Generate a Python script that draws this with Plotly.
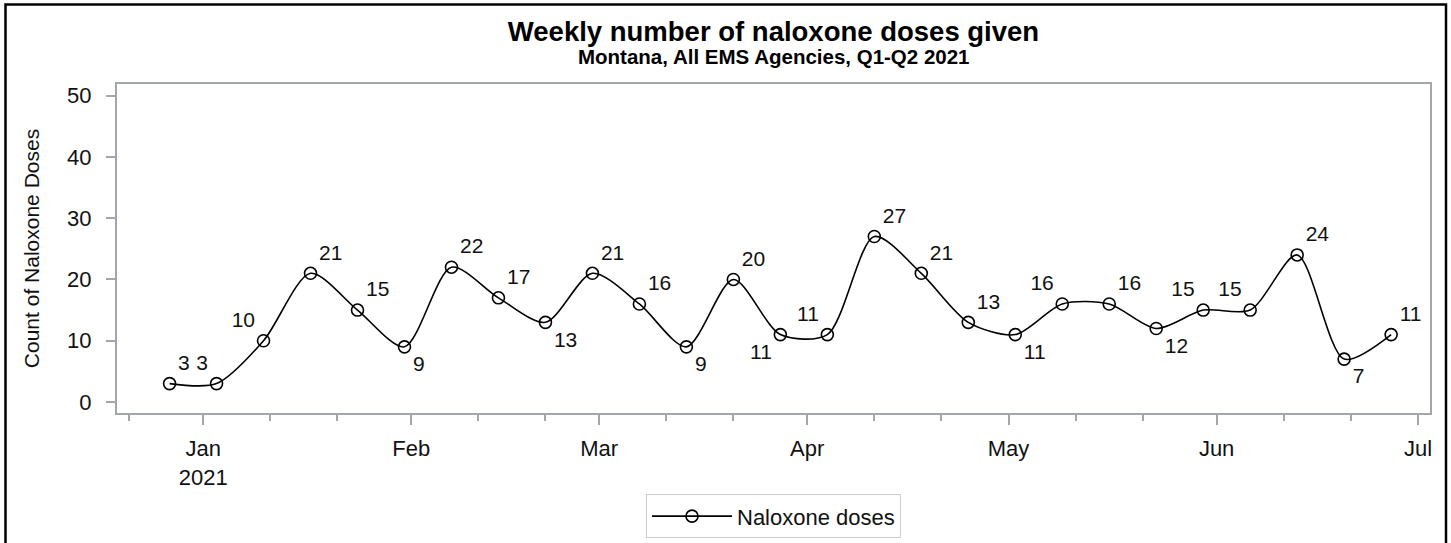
import plotly.graph_objects as go
import pandas as pd

week_start = pd.date_range("2020-12-27", periods=27, freq="7D")
doses = [3, 3, 10, 21, 15, 9, 22, 17, 13, 21, 16, 9, 20, 11, 11, 27, 21, 13, 11, 16, 16, 12, 15, 15, 24, 7, 11]
label_pos = ["top right", "top left", "top left", "top right", "top right", "bottom right",
             "top right", "top right", "bottom right", "top right", "top right", "bottom right",
             "top right", "bottom left", "top left", "top right", "top right", "top right",
             "bottom right", "top left", "top right", "bottom right", "top left", "top left",
             "top right", "bottom right", "top right"]

month_ticks = ["2021-01-01", "2021-02-01", "2021-03-01", "2021-04-01", "2021-05-01", "2021-06-01", "2021-07-01"]
month_labels = ["Jan<br>2021", "Feb", "Mar", "Apr", "May", "Jun", "Jul"]
minor_ticks = ["2020-12-21", "2021-01-11", "2021-01-21", "2021-02-11", "2021-02-21", "2021-03-11", "2021-03-21",
               "2021-04-11", "2021-04-21", "2021-05-11", "2021-05-21", "2021-06-11", "2021-06-21"]
y_ticks = [0, 10, 20, 30, 40, 50]

FONT = "Liberation Sans, Arial, sans-serif"
AXIS = "#a3a7ab"
W_FIG, H_FIG = 1451, 551
L, R, T, B = 117, 21, 84, 136
PW = W_FIG - L - R
PH = H_FIG - T - B

fig = go.Figure()
fig.add_trace(go.Scatter(
    x=week_start, y=doses, mode="lines+markers+text",
    name="Naloxone doses",
    line=dict(color="black", width=1.6, shape="spline", smoothing=0.8),
    marker=dict(symbol="circle-open", size=12, color="black", line=dict(width=1.6)),
    text=[str(v) for v in doses], textposition=label_pos,
    textfont=dict(family=FONT, size=21, color="#111"),
    cliponaxis=False,
))

fig.update_layout(
    width=W_FIG, height=H_FIG, autosize=False,
    margin=dict(l=L, r=R, t=T, b=B),
    paper_bgcolor="white", plot_bgcolor="white",
    font=dict(family=FONT, color="#111"),
    title=dict(
        text="<b>Weekly number of naloxone doses given</b>",
        x=(L + PW / 2) / W_FIG, xanchor="center", xref="container",
        y=1 - 31 / H_FIG, yanchor="middle", yref="container",
        font=dict(family=FONT, size=27.5, color="black"),
    ),
    showlegend=True,
    legend=dict(orientation="h", x=0.5, xanchor="center", y=-(519 - T - PH) / PH, yanchor="middle",
                bordercolor="#cfcfcf", borderwidth=1, font=dict(family=FONT, size=22),
                itemwidth=80),
)

fig.add_annotation(
    text="<b>Montana, All EMS Agencies, Q1-Q2 2021</b>",
    xref="paper", yref="paper", x=0.5, xanchor="center",
    y=(T + PH - 56) / PH, yanchor="middle", showarrow=False,
    font=dict(family=FONT, size=20.5, color="black"),
)

fig.update_xaxes(
    range=["2020-12-19 04:00", "2021-07-02 19:00"],
    tickmode="array", tickvals=month_ticks, ticktext=month_labels,
    ticks="outside", ticklen=10, tickcolor=AXIS, tickwidth=1.5,
    showline=True, linecolor=AXIS, linewidth=2, mirror=True, showgrid=False, zeroline=False,
    tickfont=dict(family=FONT, size=22),
    ticklabelstandoff=5, automargin=False,
    minor=dict(tickvals=minor_ticks, ticks="outside", ticklen=6, tickcolor=AXIS, tickwidth=1.5, showgrid=False),
)
fig.update_yaxes(
    range=[-1.8, 51.9],
    tickmode="array", tickvals=y_ticks,
    ticks="outside", ticklen=9, tickcolor=AXIS, tickwidth=1.5,
    showline=True, linecolor=AXIS, linewidth=2, mirror=True, showgrid=False, zeroline=False,
    tickfont=dict(family=FONT, size=22),
    ticklabelstandoff=10, automargin=False,
    title=dict(text="Count of Naloxone Doses", font=dict(family=FONT, size=21), standoff=22),
)

fig.add_shape(type="rect", xref="paper", yref="paper",
              x0=(5.5 - L) / PW, x1=(1446 - L) / PW,
              y0=-(556 - T - PH) / PH, y1=(T + PH - 4) / PH,
              line=dict(color="black", width=2.5), fillcolor="rgba(0,0,0,0)", layer="above")

fig.write_html("out.html",
               config={"responsive": False, "displayModeBar": False},
               post_script="document.body.style.margin='0';document.body.style.overflow='hidden';")
